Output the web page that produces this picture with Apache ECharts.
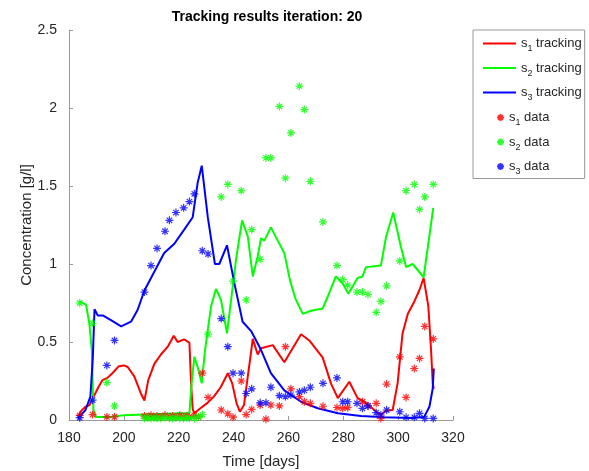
<!DOCTYPE html>
<html>
<head>
<meta charset="utf-8">
<script src="https://cdn.jsdelivr.net/npm/echarts@6/dist/echarts.min.js"></script>
<style>
html,body{margin:0;padding:0;background:#fff;}
#chart{width:589px;height:471px;}
</style>
</head>
<body>
<div id="chart"></div>
<script>
// ---------- data ----------
const xTicks = [180, 200, 220, 240, 260, 280, 300, 320];
const yTicks = [0, 0.5, 1, 1.5, 2, 2.5];

// measurement days (shared by the three data series)
const dataDays = [183.9, 188.6, 193.8, 196.6, 207.5, 208.7, 209.9, 211, 212.1, 213.5, 215, 216.6, 217.8, 219, 220.4, 221.8, 223, 223.9, 225.7, 227.2,
  228.6, 230.7, 235.5, 237.9, 239.8, 242.8, 244.6, 246.6, 249.7, 251.8, 253.6, 256.7, 258.9, 260.9, 264, 265.8, 268, 272.6, 277.7, 279.8,
  281.6, 285, 287, 289, 292, 293.7, 295.8, 300.6, 302.9, 305.9, 307.8, 309.7, 312.8];

const s1Data = [0.03, 0.035, 0.02, 0.02, 0.025, 0.02, 0.03, 0.02, 0.025, 0.02, 0.03, 0.02, 0.025, 0.02, 0.03, 0.02, 0.025, 0.02, 0.03, 0.02,
  0.30, 0.145, 0.064, 0.04, 0.018, 0.25, 0.035, 0.068, 0.096, 0.005, 0.096, 0.09, 0.47, 0.20, 0.15, 0.117, 0.107, 0.088, 0.08, 0.075,
  0.079, null, 0.117, 0.09, 0.107, 0.01, 0.23, 0.405, 0.145, 0.33, 0.395, 0.60, 0.52];

const s2Data = [0.75, 0.62, 0.24, 0.09, 0.012, 0.015, 0.01, 0.015, 0.012, 0.01, 0.015, 0.012, 0.01, 0.015, 0.012, 0.01, 0.015, 0.012, 0.01, 0.02,
  0.035, 0.55, 1.43, 1.51, 0.89, 1.47, 0.77, 1.22, 1.03, 1.68, 1.68, 2.01, 1.55, 1.84, 2.14, 1.99, 1.53, 1.27, 0.99, 0.90,
  0.865, 0.82, 0.82, 0.805, 0.69, 0.76, 0.86, 1.02, 1.47, 1.51, 1.35, 1.43, 1.51];

const s3Data = [0.015, 0.128, 0.35, 0.51, 0.82, null, 0.99, null, 1.10, null, 1.21, 1.28, null, 1.33, null, 1.36, null, 1.40, 1.45, null,
  1.085, 1.064, 0.65, 0.47, 0.30, 0.30, 0.17, 0.20, 0.11, 0.11, 0.21, 0.156, 0.15, 0.16, 0.18, 0.19, 0.21, 0.235, 0.27, 0.117,
  0.117, 0.107, 0.075, 0.09, 0.047, 0.032, 0.064, 0.053, 0.017, 0.017, 0.043, 0.01, 0.01];

// tracking (model) curves
const s1TrackT = [183.3, 184.5, 186, 187.5, 189, 190.7, 192.2, 194, 195.8, 198.2, 200, 201.4, 203.8, 206.2, 207.5, 208.9, 211.1, 213.5, 216, 218.2,
  219.6, 222, 223.9, 224.5, 225.1, 225.7, 227.9, 230.5, 232.8, 235.3, 237.9, 239.5, 241.1, 242.3, 243.8, 245, 246, 247, 248.8, 250,
  254.3, 258.5, 264.6, 267.6, 272.5, 275.5, 278, 282.2, 285.2, 287.7, 291.3, 293.7, 295.6, 298, 299.8, 301.6, 303.5, 305.9, 307.7, 309.3,
  311, 312, 312.6, 313];
const s1TrackV = [0.02, 0.06, 0.085, 0.095, 0.15, 0.21, 0.256, 0.27, 0.30, 0.345, 0.35, 0.34, 0.28, 0.17, 0.125, 0.256, 0.36, 0.42, 0.47, 0.54,
  0.50, 0.517, 0.495, 0.235, 0.07, 0.043, 0.075, 0.11, 0.15, 0.21, 0.30, 0.235, 0.107, 0.053, 0.096, 0.256, 0.385, 0.52, 0.42, 0.46,
  0.48, 0.37, 0.55, 0.51, 0.40, 0.235, 0.14, 0.245, 0.14, 0.117, 0.064, 0.032, 0.06, 0.064, 0.235, 0.555, 0.68, 0.76, 0.83, 0.91,
  0.73, 0.45, 0.235, 0.2];

const s2TrackT = [183.8, 186.2, 187.4, 188.3, 188.9, 189.8, 195.3, 200, 207.5, 215, 223.9, 224.7, 225.7, 226.9, 228.4, 229.6, 231.8, 233.6, 235.4, 237.6,
  239.1, 240.9, 243.1, 245.2, 247, 248.8, 250, 251.2, 253.6, 256.1, 258.5, 260.5, 262.5, 265.2, 268.2, 272.5, 274.3, 277.3, 279.8, 281.8,
  283.4, 285.2, 287, 288.3, 293.7, 295.6, 298.2, 301, 302.9, 305.3, 309.3, 312.8];
const s2TrackV = [0.76, 0.74, 0.62, 0.45, 0.064, 0.02, 0.02, 0.03, 0.036, 0.04, 0.045, 0.235, 0.405, 0.34, 0.235, 0.45, 0.73, 0.84, 0.77, 0.555,
  0.77, 1.03, 1.28, 1.175, 0.92, 1.05, 1.165, 1.15, 1.235, 1.15, 1.07, 0.90, 0.78, 0.68, 0.70, 0.715, 0.79, 0.92, 0.875, 0.81,
  0.855, 0.91, 0.92, 0.98, 0.99, 1.175, 1.33, 1.11, 0.98, 1.00, 0.915, 1.36];

const s3TrackT = [183.3, 186, 187.8, 188.7, 189.3, 190.5, 192.3, 195.3, 199, 202.6, 205, 207.5, 209.9, 212.3, 214.7, 218.4, 222, 225.1, 226.9, 228.4,
  230.6, 233.2, 234.8, 237.6, 240.3, 243.3, 246.4, 247.6, 250, 253.6, 258.5, 264.6, 270.7, 278, 286.5, 295, 304.7, 309.5, 311.4, 312.6, 313];
const s3TrackV = [0.01, 0.064, 0.15, 0.405, 0.71, 0.67, 0.67, 0.64, 0.60, 0.63, 0.705, 0.83, 0.91, 0.99, 1.07, 1.13, 1.22, 1.30, 1.52, 1.63,
  1.30, 1.00, 1.00, 1.12, 0.876, 0.63, 0.57, 0.53, 0.45, 0.30, 0.19, 0.117, 0.075, 0.043, 0.026, 0.017, 0.013, 0.02, 0.085, 0.20, 0.33];

// ---------- chart ----------
const RED = '#ff0000', GREEN = '#00ff00', BLUE = '#0000ff';
const AX = '#9a9a9a', TXT = '#262626';
const FONT = 'Liberation Sans, Arial, sans-serif';
const STAR = 'path://M5,0L5,10M0,5L10,5M1.6,1.6L8.4,8.4M1.6,8.4L8.4,1.6';

const pairs = (t, v) => t.map((x, i) => [x, v[i]]);
const pts = (v) => dataDays.map((d, i) => [d, v[i]]).filter(p => p[1] !== null);

function lineSeries(name, t, v, c) {
  return { name, type: 'line', data: pairs(t, v), showSymbol: false, symbol: 'none',
    lineStyle: { color: c, width: 2 }, itemStyle: { color: c }, animation: false, z: 2 };
}
function dataSeries(name, v, c) {
  return { name, type: 'scatter', data: pts(v), symbol: STAR, symbolSize: 8,
    itemStyle: { color: 'transparent', borderColor: c, borderWidth: 1.2 }, animation: false, z: 3 };
}

const rich = {
  n: { fontSize: 13, color: TXT, fontFamily: FONT, lineHeight: 20 },
  sub: { fontSize: 9, color: TXT, fontFamily: FONT, lineHeight: 20, verticalAlign: 'bottom' }
};
const legendFmt = (name) => {
  const m = name.match(/^s(\d) (.*)$/);
  return '{n|s}{sub|' + m[1] + '}{n| ' + m[2] + '}';
};

const chart = echarts.init(document.getElementById('chart'), null, { renderer: 'canvas' });
chart.setOption({
  backgroundColor: '#fff',
  animation: false,
  title: {
    text: 'Tracking results iteration: 20', left: 262, top: 5, textAlign: 'center',
    textStyle: { fontSize: 14, fontWeight: 'bold', color: '#000', fontFamily: FONT }
  },
  grid: { left: 69, right: 136, top: 30, bottom: 51, containLabel: false, outerBoundsMode: 'none' },
  legend: [{
    data: [
      { name: 's1 tracking', icon: 'rect' },
      { name: 's2 tracking', icon: 'rect' },
      { name: 's3 tracking', icon: 'rect' }
    ],
    orient: 'vertical', left: 473, top: 30, itemWidth: 33, itemHeight: 2, itemGap: 8, itemTextGap: 5,
    padding: [7, 3, 76, 10], borderColor: AX, borderWidth: 1, backgroundColor: '#fff',
    formatter: legendFmt, textStyle: { rich }, selectedMode: false
  }, {
    data: ['s1 data', 's2 data', 's3 data'],
    orient: 'vertical', left: 473, top: 111, itemWidth: 7, itemHeight: 7, itemGap: 8, itemTextGap: 18,
    padding: [0, 2, 0, 23],
    formatter: legendFmt, textStyle: { rich }, selectedMode: false
  }],
  xAxis: {
    type: 'value', min: xTicks[0], max: xTicks[xTicks.length - 1], interval: 20,
    name: 'Time [days]', nameLocation: 'middle', nameGap: 34, nameMoveOverlap: false,
    nameTextStyle: { fontSize: 15, color: TXT, fontFamily: FONT },
    axisLine: { show: true, lineStyle: { color: AX, width: 1 } },
    axisTick: { show: true, inside: true, length: 4, lineStyle: { color: AX } },
    axisLabel: { fontSize: 14, color: TXT, margin: 11, fontFamily: FONT },
    splitLine: { show: false }
  },
  yAxis: {
    type: 'value', min: yTicks[0], max: yTicks[yTicks.length - 1], interval: 0.5,
    name: 'Concentration [g/l]', nameLocation: 'middle', nameGap: 35, nameMoveOverlap: false,
    nameTextStyle: { fontSize: 15, color: TXT, fontFamily: FONT },
    axisLine: { show: true, lineStyle: { color: AX, width: 1 } },
    axisTick: { show: true, inside: true, length: 4, lineStyle: { color: AX } },
    axisLabel: { fontSize: 14, color: TXT, margin: 12, fontFamily: FONT },
    splitLine: { show: false }
  },
  series: [
    lineSeries('s1 tracking', s1TrackT, s1TrackV, RED),
    lineSeries('s2 tracking', s2TrackT, s2TrackV, GREEN),
    lineSeries('s3 tracking', s3TrackT, s3TrackV, BLUE),
    dataSeries('s1 data', s1Data, RED),
    dataSeries('s2 data', s2Data, GREEN),
    dataSeries('s3 data', s3Data, BLUE)
  ]
});
</script>
</body>
</html>
